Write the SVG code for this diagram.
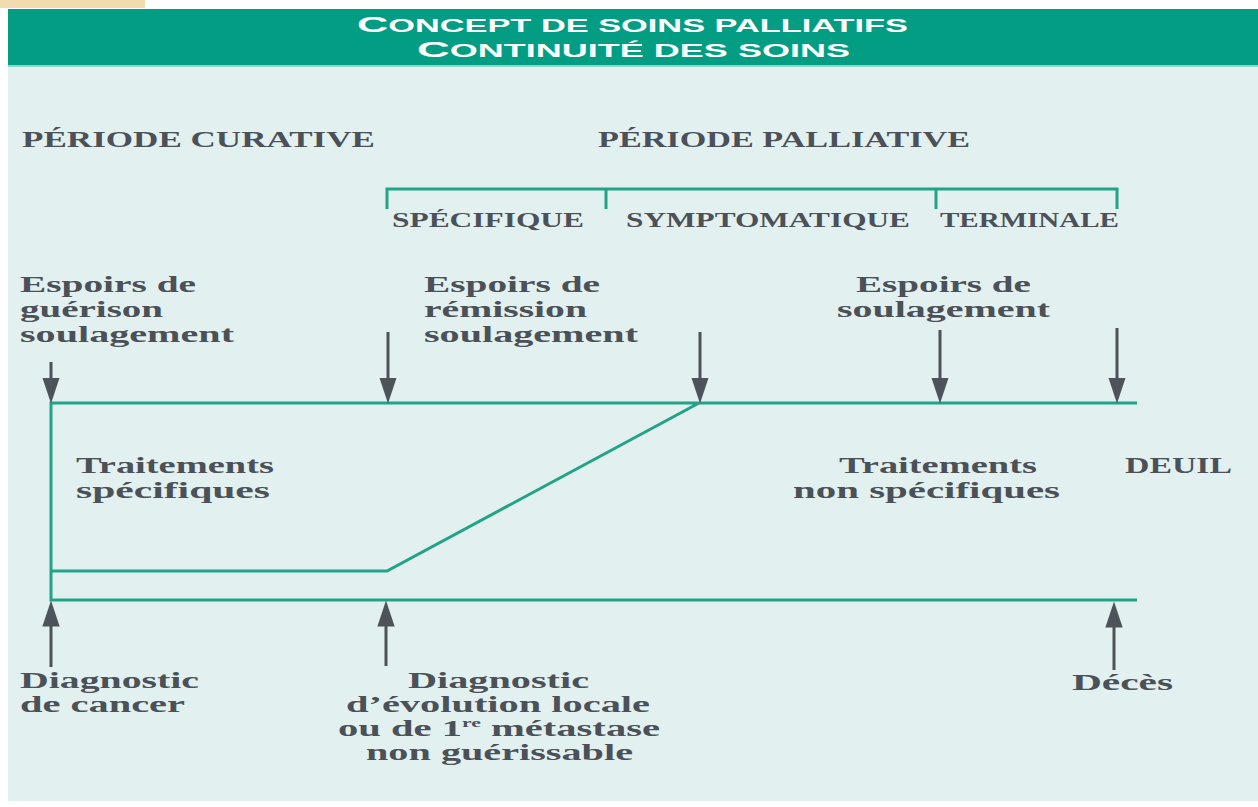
<svg xmlns="http://www.w3.org/2000/svg" width="1258" height="807" viewBox="0 0 1258 807">
<defs>
<style>
.hdr{font-family:"Liberation Sans","Arial",sans-serif;font-weight:bold;fill:#ffffff}
.lbl{font-family:"Liberation Serif","Times New Roman",serif;font-weight:bold;fill:#4b5157;font-size:22.5px}
.cap{font-family:"Liberation Serif","Times New Roman",serif;font-weight:bold;fill:#4b5157;font-size:23px}
.sub{font-family:"Liberation Serif","Times New Roman",serif;font-weight:bold;fill:#4b5157;font-size:21px}
.teal{stroke:#23a386;stroke-width:3;fill:none;stroke-linejoin:miter}
.arr{stroke:#4d5358;stroke-width:3;fill:none}
</style>
<marker id="ah" markerUnits="userSpaceOnUse" markerWidth="26" markerHeight="18" viewBox="0 0 24 16" refX="6" refY="8" orient="auto">
<path d="M0,0 L24,8 L0,16 Z" fill="#4d5358"/>
</marker>
</defs>
<rect x="0" y="0" width="1258" height="807" fill="#ffffff"/>
<rect x="0" y="0" width="145" height="8" fill="#f1dbaf"/>
<rect x="8" y="65" width="1250" height="736" fill="#e2f0f0"/>
<rect x="8" y="64" width="1250" height="3" fill="#8fd8c8"/>
<g id="header">
<rect x="8" y="9" width="1250" height="56" fill="#039d83"/>
<text class="hdr" x="357" y="31.5" textLength="551" lengthAdjust="spacingAndGlyphs"><tspan font-size="22">C</tspan><tspan font-size="17.5">ONCEPT DE SOINS PALLIATIFS</tspan></text>
<text class="hdr" x="417" y="57" textLength="433" lengthAdjust="spacingAndGlyphs"><tspan font-size="22">C</tspan><tspan font-size="17.5">ONTINUITÉ DES SOINS</tspan></text>
</g>
<g id="periods">
<text class="cap" x="22" y="147" textLength="353" lengthAdjust="spacingAndGlyphs">PÉRIODE CURATIVE</text>
<text class="cap" x="598" y="147" textLength="372" lengthAdjust="spacingAndGlyphs">PÉRIODE PALLIATIVE</text>
</g>
<g id="bracket">
<path class="teal" d="M387,209 V189 H1117 V209 M606,189 V209 M936,189 V209"/>
<text class="sub" x="392" y="227" textLength="192" lengthAdjust="spacingAndGlyphs">SPÉCIFIQUE</text>
<text class="sub" x="626" y="227" textLength="284" lengthAdjust="spacingAndGlyphs">SYMPTOMATIQUE</text>
<text class="sub" x="940" y="227" textLength="179" lengthAdjust="spacingAndGlyphs">TERMINALE</text>
</g>
<g id="hopes-cure">
<text class="lbl" x="20" y="292" textLength="176" lengthAdjust="spacingAndGlyphs">Espoirs de</text>
<text class="lbl" x="20" y="317" textLength="143" lengthAdjust="spacingAndGlyphs">guérison</text>
<text class="lbl" x="20" y="342" textLength="214" lengthAdjust="spacingAndGlyphs">soulagement</text>
</g>
<g id="hopes-remission">
<text class="lbl" x="424" y="292" textLength="176" lengthAdjust="spacingAndGlyphs">Espoirs de</text>
<text class="lbl" x="424" y="317" textLength="163" lengthAdjust="spacingAndGlyphs">rémission</text>
<text class="lbl" x="424" y="342" textLength="214" lengthAdjust="spacingAndGlyphs">soulagement</text>
</g>
<g id="hopes-relief">
<text class="lbl" x="856" y="292" textLength="175" lengthAdjust="spacingAndGlyphs">Espoirs de</text>
<text class="lbl" x="837" y="317" textLength="213" lengthAdjust="spacingAndGlyphs">soulagement</text>
</g>
<g id="specific-treatments">
<text class="lbl" x="76" y="473" textLength="198" lengthAdjust="spacingAndGlyphs">Traitements</text>
<text class="lbl" x="76" y="498" textLength="194" lengthAdjust="spacingAndGlyphs">spécifiques</text>
</g>
<g id="nonspecific-treatments">
<text class="lbl" x="839" y="473" textLength="198" lengthAdjust="spacingAndGlyphs">Traitements</text>
<text class="lbl" x="793" y="498" textLength="267" lengthAdjust="spacingAndGlyphs">non spécifiques</text>
</g>
<g id="deuil">
<text class="lbl" x="1125" y="473" textLength="107" lengthAdjust="spacingAndGlyphs">DEUIL</text>
</g>
<g id="diag-cancer">
<text class="lbl" x="20" y="688" textLength="179" lengthAdjust="spacingAndGlyphs">Diagnostic</text>
<text class="lbl" x="20" y="712" textLength="165" lengthAdjust="spacingAndGlyphs">de cancer</text>
</g>
<g id="diag-evolution">
<text class="lbl" x="408" y="688" textLength="181" lengthAdjust="spacingAndGlyphs">Diagnostic</text>
<text class="lbl" x="346" y="712" textLength="304" lengthAdjust="spacingAndGlyphs">d’évolution locale</text>
<text class="lbl" x="338" y="736" textLength="322" lengthAdjust="spacingAndGlyphs">ou de 1<tspan font-size="12" dy="-9">re</tspan><tspan dy="9"> métastase</tspan></text>
<text class="lbl" x="366" y="760" textLength="267" lengthAdjust="spacingAndGlyphs">non guérissable</text>
</g>
<g id="deces">
<text class="lbl" x="1072" y="690" textLength="101" lengthAdjust="spacingAndGlyphs">Décès</text>
</g>
<g id="connectors">
<path class="teal" d="M51,403 H1137 M51,401.5 V601.5 M51,600 H1137 M51,571 H387 L699,403"/>
<line class="arr" x1="51" y1="362" x2="51" y2="384" marker-end="url(#ah)"/>
<line class="arr" x1="388" y1="332" x2="388" y2="384" marker-end="url(#ah)"/>
<line class="arr" x1="700" y1="332" x2="700" y2="384" marker-end="url(#ah)"/>
<line class="arr" x1="940" y1="330" x2="940" y2="384" marker-end="url(#ah)"/>
<line class="arr" x1="1117" y1="328" x2="1117" y2="384" marker-end="url(#ah)"/>
<line class="arr" x1="51" y1="667" x2="51" y2="620" marker-end="url(#ah)"/>
<line class="arr" x1="386" y1="666" x2="386" y2="620" marker-end="url(#ah)"/>
<line class="arr" x1="1114" y1="670" x2="1114" y2="621" marker-end="url(#ah)"/>
</g>
</svg>
